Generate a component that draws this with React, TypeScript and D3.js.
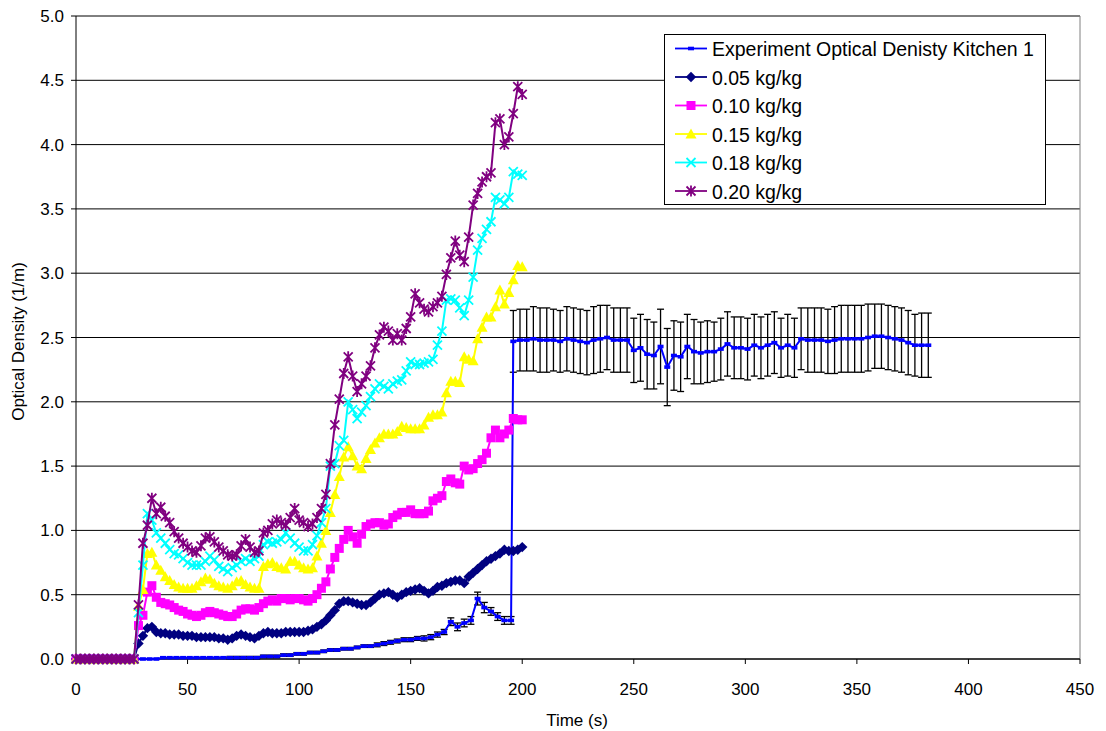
import React from 'react';
import * as d3 from 'd3';

// simulation output time (s)
const simTime = [0,2,4,6,8,10,12,14,16,18,20,22,24,26,28,30,32,34,36,38,40,42,44,46,48,50,52,54,56,58,60,62,64,66,68,70,72,74,76,78,80,82,84,86,88,90,92,94,96,98,100,102,104,106,108,110,112,114,116,118,120,122,124,126,128,130,132,134,136,138,140,142,144,146,148,150,152,154,156,158,160,162,164,166,168,170,172,174,176,178,180,182,184,186,188,190,192,194,196,198,200];

const zeros14 = [0,0,0,0,0,0,0,0,0,0,0,0,0,0];

const od005 = zeros14.concat([
  0.12,0.18,0.24,0.25,0.21,0.20,0.20,0.19,0.19,0.19,
  0.18,0.18,0.18,0.17,0.17,0.17,0.17,0.17,0.16,0.16,
  0.15,0.16,0.18,0.19,0.18,0.17,0.16,0.18,0.20,0.21,
  0.20,0.20,0.20,0.21,0.21,0.21,0.21,0.21,0.22,0.23,
  0.25,0.27,0.30,0.34,0.38,0.43,0.45,0.45,0.44,0.43,
  0.42,0.42,0.44,0.47,0.50,0.51,0.52,0.50,0.48,0.50,
  0.52,0.53,0.54,0.55,0.53,0.51,0.53,0.56,0.57,0.59,
  0.60,0.61,0.61,0.59,0.64,0.67,0.70,0.73,0.76,0.78,
  0.80,0.82,0.85,0.84,0.84,0.85,0.87]);

const od010 = zeros14.concat([
  0.26,0.34,0.52,0.57,0.48,0.44,0.43,0.42,0.40,0.38,
  0.37,0.35,0.34,0.33,0.34,0.36,0.37,0.36,0.35,0.34,
  0.33,0.33,0.35,0.38,0.39,0.39,0.38,0.40,0.43,0.45,
  0.46,0.45,0.47,0.47,0.46,0.47,0.47,0.46,0.45,0.47,
  0.50,0.55,0.60,0.70,0.79,0.86,0.93,1.00,0.95,0.90,
  0.97,1.03,1.05,1.06,1.06,1.04,1.05,1.10,1.12,1.14,
  1.14,1.16,1.13,1.13,1.13,1.15,1.23,1.25,1.27,1.38,
  1.40,1.37,1.36,1.50,1.47,1.48,1.52,1.55,1.60,1.72,
  1.78,1.72,1.75,1.78,1.87,1.86,1.86]);

const od015 = zeros14.concat([
  0.41,0.54,0.82,0.83,0.73,0.69,0.64,0.61,0.58,0.56,
  0.55,0.55,0.55,0.57,0.60,0.63,0.62,0.59,0.57,0.56,
  0.55,0.57,0.60,0.61,0.58,0.56,0.55,0.55,0.72,0.74,
  0.75,0.72,0.71,0.70,0.76,0.76,0.73,0.71,0.70,0.71,
  0.80,0.90,1.00,1.14,1.28,1.42,1.57,1.65,1.58,1.50,
  1.48,1.56,1.63,1.68,1.72,1.75,1.75,1.75,1.77,1.81,
  1.80,1.79,1.79,1.79,1.82,1.88,1.90,1.90,1.92,2.07,
  2.16,2.16,2.15,2.35,2.33,2.32,2.49,2.58,2.66,2.66,
  2.74,2.87,2.76,2.85,2.95,3.06,3.05]);

const od018 = zeros14.concat([
  0.36,0.73,1.13,1.08,0.98,0.94,0.90,0.85,0.82,0.81,
  0.78,0.75,0.73,0.73,0.73,0.76,0.80,0.77,0.72,0.70,
  0.68,0.71,0.73,0.76,0.78,0.76,0.78,0.80,0.89,0.91,
  0.90,0.91,0.93,0.98,0.94,0.90,0.87,0.84,0.84,0.89,
  0.96,1.06,1.17,1.50,1.52,1.66,1.70,2.00,1.94,1.87,
  1.92,1.97,2.04,2.10,2.14,2.12,2.10,2.14,2.16,2.17,
  2.24,2.31,2.29,2.29,2.30,2.31,2.33,2.44,2.55,2.79,
  2.80,2.79,2.73,2.67,2.79,2.97,3.18,3.27,3.34,3.40,
  3.59,3.57,3.54,3.59,3.79,3.77,3.76]);

const od020 = zeros14.concat([
  0.42,0.90,1.04,1.25,1.13,1.18,1.11,1.06,0.99,0.94,
  0.90,0.87,0.84,0.83,0.88,0.94,0.95,0.91,0.87,0.84,
  0.81,0.80,0.81,0.88,0.93,0.87,0.83,0.84,0.98,1.00,
  1.05,1.08,1.06,1.04,1.10,1.17,1.08,1.06,1.03,1.05,
  1.10,1.17,1.28,1.52,1.82,2.02,2.22,2.35,2.20,2.08,
  2.14,2.20,2.28,2.42,2.52,2.58,2.55,2.48,2.53,2.48,
  2.57,2.66,2.84,2.77,2.72,2.70,2.74,2.77,2.82,2.99,
  3.12,3.25,3.14,3.09,3.28,3.53,3.62,3.71,3.75,3.78,
  4.17,4.20,4.00,4.06,4.24,4.45,4.39]);

// experiment (Kitchen 1)
const expTime = [
  0,3,6,9,12,15,18,21,24,27,30,33,36,39,42,45,48,51,54,57,60,63,66,69,72,75,78,81,84,87,90,93,96,99,
  102,105,108,111,114,117,120,123,126,129,132,135,138,141,144,147,150,153,156,159,162,165,168,171,174,177,180,183,186,189,192,195,
  196,199,202,205,208,211,214,217,220,223,226,229,232,235,238,241,244,247,250,253,256,259,262,265,268,271,274,277,280,283,286,289,
  292,295,298,301,304,307,310,313,316,319,322,325,328,331,334,337,340,343,346,349,352,355,358,361,364,367,370,373,376,379,382];

const expOD = [
  0,0,0,0,0,0,0,0,0,0,
  0.00,0.00,0.00,0.01,0.01,0.01,0.01,0.01,0.01,0.01,0.01,0.01,0.01,
  0.01,0.01,0.01,0.01,0.01,0.02,0.02,0.02,0.03,0.03,0.04,
  0.04,0.05,0.05,0.06,0.07,0.07,0.08,0.08,0.09,0.10,0.10,
  0.11,0.12,0.13,0.14,0.15,0.15,0.16,0.16,0.17,0.19,0.21,
  0.29,0.25,0.28,0.30,0.47,0.40,0.37,0.33,0.30,0.30,
  2.47,2.48,2.48,2.49,2.48,2.48,2.48,2.47,2.49,2.48,
  2.47,2.46,2.48,2.49,2.50,2.48,2.48,2.48,2.40,2.42,
  2.37,2.36,2.43,2.27,2.36,2.35,2.43,2.39,2.38,2.39,
  2.39,2.41,2.45,2.42,2.42,2.41,2.44,2.42,2.44,2.46,
  2.42,2.44,2.42,2.49,2.48,2.48,2.48,2.47,2.48,2.49,
  2.49,2.49,2.49,2.50,2.51,2.51,2.50,2.49,2.48,2.46,
  2.44,2.44,2.44];

const expErr = [
  0,0,0,0,0,0,0,0,0,0,
  0,0,0,0,0,0,0,0,0,0,0,0,0,
  0.01,0.01,0.01,0.01,0.01,0.01,0.01,0.01,0.01,0.01,0.01,
  0.01,0.01,0.01,0.01,0.01,0.01,0.01,0.01,0.01,0.01,0.01,
  0.015,0.015,0.015,0.015,0.015,0.015,0.015,0.02,0.02,0.02,0.02,
  0.03,0.03,0.03,0.03,0.05,0.04,0.03,0.03,0.03,0.03,
  0.24,0.24,0.24,0.25,0.25,0.25,0.24,0.24,0.25,0.25,
  0.25,0.25,0.26,0.26,0.25,0.25,0.25,0.25,0.25,0.26,
  0.27,0.26,0.29,0.30,0.27,0.27,0.25,0.25,0.24,0.24,
  0.23,0.24,0.25,0.24,0.24,0.24,0.24,0.24,0.24,0.24,
  0.23,0.24,0.23,0.24,0.25,0.25,0.25,0.25,0.26,0.26,
  0.26,0.26,0.26,0.26,0.25,0.25,0.25,0.25,0.25,0.25,
  0.24,0.25,0.25];

const xTicks = [0,50,100,150,200,250,300,350,400,450];
const yTicks = [0,0.5,1,1.5,2,2.5,3,3.5,4,4.5,5];

const seriesNames = ['Experiment Optical Denisty Kitchen 1','0.05 kg/kg','0.10 kg/kg','0.15 kg/kg','0.18 kg/kg','0.20 kg/kg'];
const seriesColors = ['#0000FF','#000080','#FF00FF','#FFFF00','#00FFFF','#800080'];
const seriesMarkers = ['dash','diamond','square','triangle','x','star'];
const simValues = [od005, od010, od015, od018, od020];

const FONT = '"Liberation Sans", Arial, Helvetica, sans-serif';

function Marker({ kind, color, cx, cy }: { kind: string; color: string; cx: number; cy: number }) {
  const t = `translate(${cx},${cy})`;
  if (kind === 'dash') return <rect x={cx - 3} y={cy - 1.8} width={6} height={3.6} fill={color} />;
  if (kind === 'diamond') return <path transform={t} d="M0,-5.2L5.2,0L0,5.2L-5.2,0Z" fill={color} />;
  if (kind === 'square') return <path transform={t} d="M-4.5,-4.5H4.5V4.5H-4.5Z" fill={color} />;
  if (kind === 'triangle') return <path transform={t} d="M0,-5.5L5.5,4.5H-5.5Z" fill={color} />;
  if (kind === 'x') return <path transform={t} d="M-4.5,-4.5L4.5,4.5M-4.5,4.5L4.5,-4.5" stroke={color} strokeWidth={1.8} fill="none" />;
  return <path transform={t} d="M-4.5,-4.5L4.5,4.5M-4.5,4.5L4.5,-4.5M0,-5.5V5.5" stroke={color} strokeWidth={1.8} fill="none" />;
}

export default function App() {
  const W = 1106, H = 731;
  const x = d3.scaleLinear().domain([0, 450]).range([76, 1080]);
  const y = d3.scaleLinear().domain([0, 5]).range([659, 16]);

  const simLine = d3.line<number>().x((_, i) => x(simTime[i])).y(d => y(d));
  const expLine = d3.line<number>().x((_, i) => x(expTime[i])).y(d => y(d));

  return (
    <svg width={W} height={H} style={{ position: 'absolute', left: 0, top: 0, background: '#fff' }} fontFamily={FONT}>
      <rect x={0} y={0} width={W} height={H} fill="#fff" />
      {/* gridlines */}
      {yTicks.map(v => (
        <line key={'g' + v} x1={x(0)} x2={x(450)} y1={y(v)} y2={y(v)} stroke="#000" strokeWidth={1} />
      ))}
      <line x1={x(450)} x2={x(450)} y1={y(5)} y2={y(0)} stroke="#808080" strokeWidth={1} />
      {/* axes */}
      <line x1={x(0)} x2={x(0)} y1={y(5)} y2={y(0)} stroke="#000" strokeWidth={1} />
      <line x1={x(0)} x2={x(450)} y1={y(0)} y2={y(0)} stroke="#000" strokeWidth={1} />
      {yTicks.map(v => (
        <g key={'yt' + v}>
          <line x1={x(0) - 5} x2={x(0)} y1={y(v)} y2={y(v)} stroke="#000" />
          <text x={64} y={y(v) + 6} textAnchor="end" fontSize={17} fill="#000">{v.toFixed(1)}</text>
        </g>
      ))}
      {xTicks.map(v => (
        <g key={'xt' + v}>
          <line x1={x(v)} x2={x(v)} y1={y(0)} y2={y(0) + 5} stroke="#000" />
          <text x={x(v)} y={695} textAnchor="middle" fontSize={17} fill="#000">{v}</text>
        </g>
      ))}
      <text x={577} y={726} textAnchor="middle" fontSize={17} fill="#000">Time (s)</text>
      <text transform={`translate(24,${y(2.5) + 4}) rotate(-90)`} textAnchor="middle" fontSize={17} fill="#000">Optical Density (1/m)</text>

      {/* experiment with error bars */}
      <g>
        {expOD.map((v, i) => expErr[i] > 0 ? (
          <g key={'e' + i} stroke="#000" strokeWidth={1.3}>
            <line x1={x(expTime[i])} x2={x(expTime[i])} y1={y(v - expErr[i])} y2={y(v + expErr[i])} />
            <line x1={x(expTime[i]) - 3.5} x2={x(expTime[i]) + 3.5} y1={y(v + expErr[i])} y2={y(v + expErr[i])} />
            <line x1={x(expTime[i]) - 3.5} x2={x(expTime[i]) + 3.5} y1={y(v - expErr[i])} y2={y(v - expErr[i])} />
          </g>
        ) : null)}
        <path d={expLine(expOD) || ''} fill="none" stroke={seriesColors[0]} strokeWidth={2} />
        {expOD.map((v, i) => (
          <Marker key={'em' + i} kind="dash" color={seriesColors[0]} cx={x(expTime[i])} cy={y(v)} />
        ))}
      </g>

      {/* simulations */}
      {simValues.map((vals, s) => (
        <g key={'s' + s}>
          <path d={simLine(vals) || ''} fill="none" stroke={seriesColors[s + 1]} strokeWidth={2} />
          {vals.map((v, i) => (
            <Marker key={i} kind={seriesMarkers[s + 1]} color={seriesColors[s + 1]} cx={x(simTime[i])} cy={y(v)} />
          ))}
        </g>
      ))}

      {/* legend */}
      <g>
        <rect x={664.5} y={34.5} width={381} height={170} fill="#fff" stroke="#000" strokeWidth={1} />
        {seriesNames.map((name, i) => {
          const cy = 48.5 + i * 28.5;
          return (
            <g key={'l' + i}>
              <line x1={675} x2={707} y1={cy} y2={cy} stroke={seriesColors[i]} strokeWidth={1.8} />
              <Marker kind={seriesMarkers[i]} color={seriesColors[i]} cx={691} cy={cy} />
              <text x={712} y={cy + 7.5} fontSize={19.5} fill="#000">{name}</text>
            </g>
          );
        })}
      </g>
    </svg>
  );
}
